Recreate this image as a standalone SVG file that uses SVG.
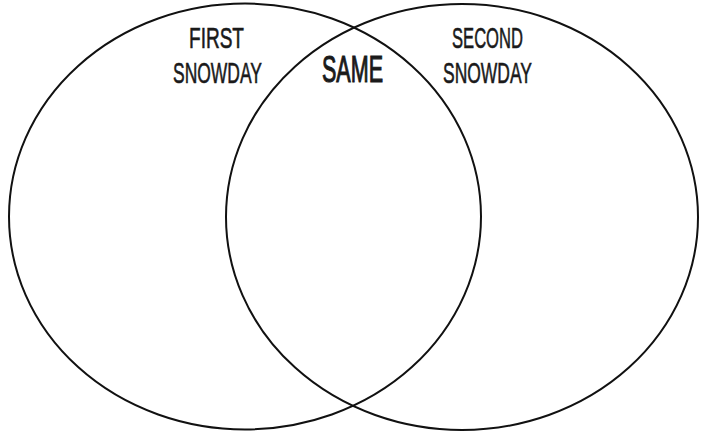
<svg xmlns="http://www.w3.org/2000/svg" width="702" height="433" viewBox="0 0 702 433">
  <style>
    .circ { fill: none; stroke: #111; stroke-width: 2; }
    .lbl { font-family: "Liberation Sans", Arial, sans-serif; font-size: 30px; fill: #1a1a1a; stroke: #1a1a1a; stroke-width: 0.6; text-anchor: middle; }
    .same { font-family: "Liberation Sans", Arial, sans-serif; font-size: 37px; fill: #1a1a1a; stroke: #1a1a1a; stroke-width: 1.1; text-anchor: middle; }
  </style>
  <rect width="702" height="433" fill="#fff"/>
  <g id="first-snowday">
    <ellipse class="circ" cx="245" cy="216.5" rx="236" ry="213"/>
    <text class="lbl" x="216.5" y="48" textLength="55" lengthAdjust="spacingAndGlyphs">FIRST</text>
    <text class="lbl" x="217.5" y="83" textLength="89" lengthAdjust="spacingAndGlyphs">SNOWDAY</text>
  </g>
  <g id="second-snowday">
    <ellipse class="circ" cx="462" cy="217" rx="236" ry="213"/>
    <text class="lbl" x="487.5" y="48" textLength="71" lengthAdjust="spacingAndGlyphs">SECOND</text>
    <text class="lbl" x="487.5" y="83" textLength="89" lengthAdjust="spacingAndGlyphs">SNOWDAY</text>
  </g>
  <g id="same">
    <text class="same" x="352.5" y="82" textLength="61" lengthAdjust="spacingAndGlyphs">SAME</text>
  </g>
</svg>
